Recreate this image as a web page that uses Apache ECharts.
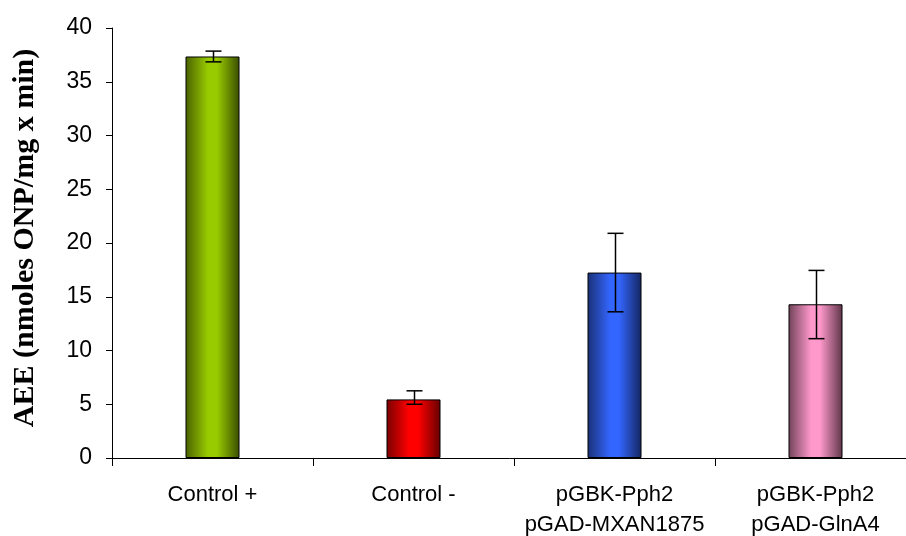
<!DOCTYPE html>
<html>
<head>
<meta charset="utf-8">
<script src="https://cdn.jsdelivr.net/npm/echarts@6/dist/echarts.min.js"></script>
<style>html,body{margin:0;padding:0;background:#fff}#c{width:906px;height:536px}</style>
</head>
<body>
<div id="c"></div>
<script>
var categories = ['Control +', 'Control -', 'pGBK-Pph2\npGAD-MXAN1875', 'pGBK-Pph2\npGAD-GlnA4'];
var values = [37.35, 5.45, 17.25, 14.3];
var errLow = [36.85, 5.0, 13.6, 11.1];
var errHigh = [37.85, 6.25, 20.9, 17.45];
var yTicks = [0, 5, 10, 15, 20, 25, 30, 35, 40];
var yTitle = 'AEE (nmoles ONP/mg x min)';

var barColors = [
  ['#4a6100', '#99cc00', '#3a4d00'],
  ['#7a0000', '#ff0000', '#660000'],
  ['#1a3075', '#3366ff', '#142660'],
  ['#704258', '#ff99cc', '#5e3548']
];

function grad(c) {
  return new echarts.graphic.LinearGradient(0, 0, 1, 0, [
    {offset: 0, color: c[0]},
    {offset: 0.42, color: c[1]},
    {offset: 0.58, color: c[1]},
    {offset: 1, color: c[2]}
  ]);
}

var font = '"Liberation Sans",Arial,sans-serif';
var chart = echarts.init(document.getElementById('c'), null, {renderer: 'canvas'});
chart.setOption({
  animation: false,
  backgroundColor: '#ffffff',
  grid: {left: 112, top: 28, width: 804, height: 430, containLabel: false, outerBoundsMode: 'none'},
  graphic: [{
    type: 'text',
    x: 25, y: 238,
    rotation: Math.PI / 2,
    style: {
      text: yTitle,
      align: 'center', verticalAlign: 'middle',
      fill: '#000',
      font: 'bold 30px "Liberation Serif","Times New Roman",serif'
    }
  }],
  xAxis: {
    type: 'category',
    data: categories,
    axisLine: {lineStyle: {color: '#000', width: 1}},
    axisTick: {show: true, length: 8, lineStyle: {color: '#000'}},
    axisLabel: {color: '#000', fontSize: 22, fontFamily: font, margin: 22, lineHeight: 30, interval: 0}
  },
  yAxis: {
    type: 'value',
    min: 0, max: 40, interval: 5,
    axisLine: {show: true, lineStyle: {color: '#000', width: 1}},
    axisTick: {show: true, length: 6, lineStyle: {color: '#000'}},
    splitLine: {show: false},
    axisLabel: {color: '#000', fontSize: 23, fontFamily: font, margin: 20,
      formatter: function (v) { return yTicks.indexOf(v) >= 0 ? String(v) : ''; }}
  },
  series: [
    {
      type: 'bar',
      barWidth: 54,
      data: values.map(function (v, i) {
        return {value: v, itemStyle: {color: grad(barColors[i]), borderColor: '#000', borderWidth: 1}};
      })
    },
    {
      type: 'custom',
      z: 5,
      data: values.map(function (v, i) { return [i, errLow[i], errHigh[i]]; }),
      renderItem: function (params, api) {
        var lo = api.coord([api.value(0), api.value(1)]);
        var hi = api.coord([api.value(0), api.value(2)]);
        var x = Math.round(lo[0]) + 0.5;
        var w = 8;
        var st = {stroke: '#000', lineWidth: 1.5};
        return {
          type: 'group',
          children: [
            {type: 'line', shape: {x1: x, y1: lo[1], x2: x, y2: hi[1]}, style: st},
            {type: 'line', shape: {x1: x - w, y1: lo[1], x2: x + w, y2: lo[1]}, style: st},
            {type: 'line', shape: {x1: x - w, y1: hi[1], x2: x + w, y2: hi[1]}, style: st}
          ]
        };
      }
    }
  ]
});
</script>
</body>
</html>
